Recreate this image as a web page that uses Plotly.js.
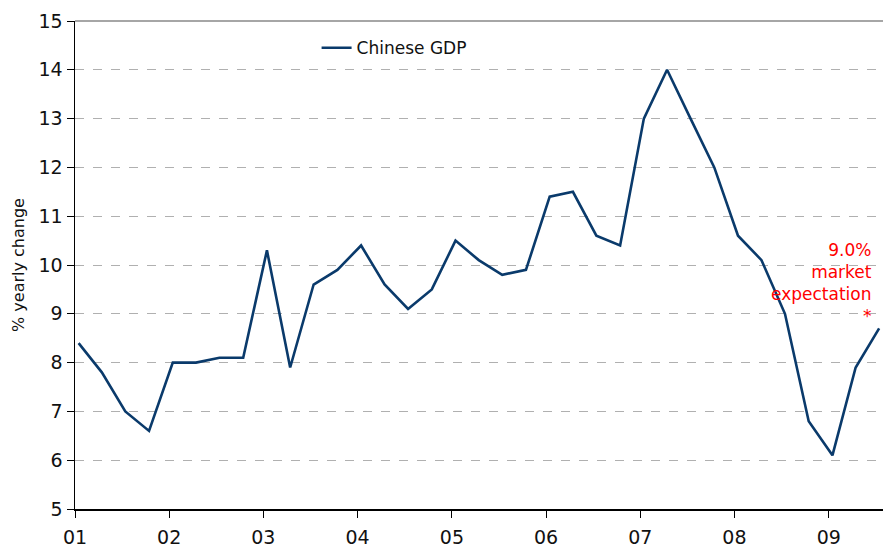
<!DOCTYPE html>
<html>
<head>
<meta charset="utf-8">
<script src="https://cdn.plot.ly/plotly-3.0.1.min.js"></script>
<style>html,body{margin:0;padding:0;background:#fff;}#chart{width:883px;height:548px;}</style>
</head>
<body>
<div id="chart"></div>
<script>
// Quarterly observations (mid-quarter-start dates), 2001Q1 - 2009Q3
const quarters = [
  '2001-01-15','2001-04-15','2001-07-15','2001-10-15',
  '2002-01-15','2002-04-15','2002-07-15','2002-10-15',
  '2003-01-15','2003-04-15','2003-07-15','2003-10-15',
  '2004-01-15','2004-04-15','2004-07-15','2004-10-15',
  '2005-01-15','2005-04-15','2005-07-15','2005-10-15',
  '2006-01-15','2006-04-15','2006-07-15','2006-10-15',
  '2007-01-15','2007-04-15','2007-07-15','2007-10-15',
  '2008-01-15','2008-04-15','2008-07-15','2008-10-15',
  '2009-01-15','2009-04-15','2009-07-15'
];
const chineseGDP = [
  8.4, 7.8, 7.0, 6.6,
  8.0, 8.0, 8.1, 8.1,
  10.3, 7.9, 9.6, 9.9,
  10.4, 9.6, 9.1, 9.5,
  10.5, 10.1, 9.8, 9.9,
  11.4, 11.5, 10.6, 10.4,
  13.0, 14.0, 13.0, 12.0,
  10.6, 10.1, 9.0, 6.8,
  6.1, 7.9, 8.7
];
const seriesName = 'Chinese GDP';
const yTitle = '% yearly change';
const noteText = '9.0%<br>market<br>expectation<br>*';

const FONT = 'Verdana, "DejaVu Sans", sans-serif';

const trace = {
  x: quarters,
  y: chineseGDP,
  type: 'scatter',
  mode: 'lines',
  name: seriesName,
  line: {color: '#0a3a6b', width: 2.6}
};

const layout = {
  width: 883, height: 548,
  margin: {l: 75, r: 0, t: 21, b: 39, pad: 0},
  paper_bgcolor: '#fff', plot_bgcolor: '#fff',
  font: {family: FONT, color: '#111', size: 19},
  showlegend: true,
  legend: {
    x: 0.299, y: 0.981, xanchor: 'left', yanchor: 'top',
    bgcolor: 'rgba(0,0,0,0)', borderwidth: 0,
    font: {family: FONT, size: 17, color: '#111'}
  },
  xaxis: {
    type: 'date',
    range: ['2001-01-01', '2009-07-30'],
    tick0: '2001-01-01', dtick: 'M12', tickformat: '%y',
    ticks: 'outside', ticklen: 7, tickcolor: '#000', tickwidth: 1,
    ticklabelstandoff: 4,
    showline: true, linecolor: '#000', linewidth: 1.5,
    showgrid: false, zeroline: false,
    tickfont: {family: FONT, size: 19, color: '#111'}
  },
  yaxis: {
    range: [5, 15], dtick: 1, tick0: 5,
    ticks: 'outside', ticklen: 7, tickcolor: '#000', tickwidth: 1,
    showline: true, linecolor: '#000', linewidth: 1.5,
    showgrid: true, gridcolor: '#b0b0b0', gridwidth: 1, griddash: 'dash',
    zeroline: false,
    tickfont: {family: FONT, size: 19, color: '#111'},
    title: {text: yTitle, font: {family: FONT, size: 16, color: '#111'}, standoff: 10}
  },
  shapes: [{
    type: 'line', xref: 'paper', yref: 'paper',
    x0: 0, x1: 1, y0: 1, y1: 1,
    line: {color: '#888', width: 1.5}
  }],
  annotations: [{
    xref: 'paper', yref: 'paper', x: 0.989, y: 0.463,
    xanchor: 'right', yanchor: 'middle', align: 'right',
    showarrow: false, text: noteText,
    font: {family: FONT, size: 17, color: '#ff0000'}
  }]
};

Plotly.newPlot('chart', [trace], layout, {displayModeBar: false, staticPlot: true});
</script>
</body>
</html>
